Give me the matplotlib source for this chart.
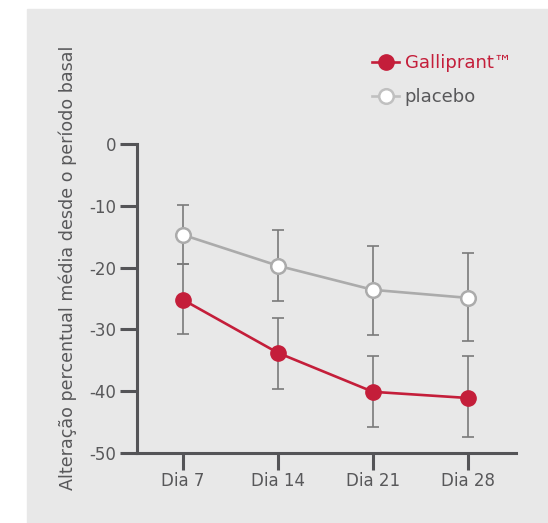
import matplotlib.pyplot as plt
from matplotlib.patches import Rectangle
from matplotlib.lines import Line2D

days = ["Dia 7", "Dia 14", "Dia 21", "Dia 28"]
galliprant = [-25.2, -33.8, -40.1, -41.1]
galliprant_hi = [-19.4, -28.2, -34.3, -34.3]
galliprant_lo = [-30.7, -39.6, -45.8, -47.4]
placebo = [-14.7, -19.7, -23.6, -24.9]
placebo_hi = [-9.9, -13.9, -16.5, -17.6]
placebo_lo = [-19.4, -25.4, -30.9, -31.9]
yticks = [0, -10, -20, -30, -40, -50]

RED = "#c41e3a"
GREY_LINE = "#ababab"
ERR = "#7a7a7a"
TXT = "#58585a"
AX = "#545457"

plt.rcParams["font.family"] = "DejaVu Sans"

fig = plt.figure(figsize=(5.48, 5.23), dpi=100)
fig.patches.append(Rectangle((27 / 548, 0), 1, 1 - 9 / 523, transform=fig.transFigure,
                             color="#e8e8e8", zorder=-1))

ax = fig.add_axes([137 / 548, 1 - 453 / 523, (516 - 137) / 548, (453 - 144) / 523])
ax.set_facecolor("none")
ax.set_zorder(2)
x = list(range(len(days)))

def err(vals, hi, lo):
    return [[v - l for v, l in zip(vals, lo)], [h - v for v, h in zip(vals, hi)]]

ax.errorbar(x, placebo, yerr=err(placebo, placebo_hi, placebo_lo), fmt="none",
            ecolor=ERR, elinewidth=1.2, capsize=4.5, capthick=1.2, zorder=2)
ax.errorbar(x, galliprant, yerr=err(galliprant, galliprant_hi, galliprant_lo), fmt="none",
            ecolor=ERR, elinewidth=1.2, capsize=4.5, capthick=1.2, zorder=2)
ax.plot(x, placebo, color=GREY_LINE, lw=1.9, marker="o", ms=10.5, mfc="white",
        mec=GREY_LINE, mew=1.8, zorder=3)
ax.plot(x, galliprant, color=RED, lw=1.9, marker="o", ms=11, mfc=RED, mec=RED, zorder=4)

ax.set_xlim(-0.484, 3.505)
ax.set_ylim(-50, 0)
ax.set_xticks(x, days)
ax.set_yticks(yticks, [str(v) for v in yticks])
for s in ["top", "right"]:
    ax.spines[s].set_visible(False)
for s in ["left", "bottom"]:
    ax.spines[s].set_color(AX)
    ax.spines[s].set_linewidth(2.2)
ax.tick_params(axis="both", colors=AX, width=2.2, length=12, labelcolor=TXT, labelsize=12)
ax.tick_params(axis="y", pad=3)
ax.tick_params(axis="x", pad=2)

fig.text(68 / 548, 1 - 268 / 523, "Alteração percentual média desde o período basal",
         rotation=90, ha="center", va="center", fontsize=12.6, color=TXT)

handles = [
    Line2D([], [], color=RED, lw=1.9, marker="o", ms=11, mfc=RED, mec=RED),
    Line2D([], [], color="#c0c0c0", lw=1.9, marker="o", ms=10.5, mfc="white", mec="#c0c0c0", mew=1.8),
]
leg = fig.legend(handles, ["Galliprant™", "placebo"], loc="upper left",
                 bbox_to_anchor=(356 / 548, 1 - 38 / 523), frameon=False, fontsize=13,
                 handlelength=1.5, handletextpad=0.3, labelspacing=0.9,
                 labelcolor=[RED, TXT])

fig.savefig("out.png", dpi=100)
